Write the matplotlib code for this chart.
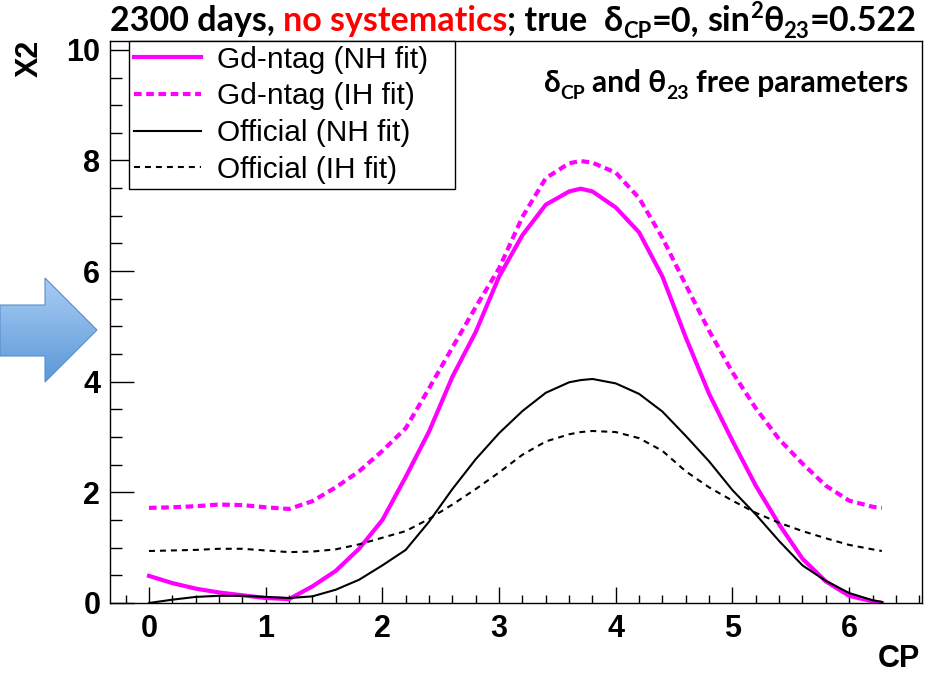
import matplotlib
matplotlib.use('Agg')
import matplotlib.pyplot as plt
import numpy as np
from matplotlib.ticker import MultipleLocator
from matplotlib.patches import Polygon
from matplotlib.transforms import IdentityTransform

# delta_CP scan points and chi2 values
cp = [0.0, 0.2, 0.4, 0.6, 0.8, 1.0, 1.2, 1.4, 1.6, 1.8, 2.0, 2.2, 2.4, 2.6, 2.8,
      3.0, 3.2, 3.4, 3.6, 3.7, 3.8, 4.0, 4.2, 4.4, 4.6, 4.8, 5.0, 5.2, 5.4, 5.6,
      5.8, 6.0, 6.2, 6.28]
gd_nh = [0.49, 0.36, 0.26, 0.19, 0.14, 0.09, 0.07, 0.30, 0.58, 0.98, 1.50, 2.28, 3.10, 4.09, 4.90,
         5.90, 6.65, 7.20, 7.44, 7.49, 7.44, 7.15, 6.70, 5.90, 4.80, 3.78, 2.93, 2.12, 1.42, 0.80,
         0.39, 0.13, 0.03, 0.0]
gd_ih = [1.72, 1.73, 1.75, 1.78, 1.77, 1.73, 1.70, 1.84, 2.09, 2.38, 2.75, 3.16, 3.88, 4.62, 5.35,
         6.05, 6.98, 7.68, 7.95, 7.99, 7.96, 7.78, 7.32, 6.60, 5.75, 4.92, 4.17, 3.52, 2.96, 2.52,
         2.12, 1.85, 1.74, 1.72]
off_nh = [0.0, 0.06, 0.11, 0.13, 0.13, 0.11, 0.09, 0.12, 0.24, 0.42, 0.68, 0.96, 1.47, 2.06, 2.60,
          3.07, 3.47, 3.80, 3.99, 4.03, 4.05, 3.97, 3.78, 3.46, 3.02, 2.56, 2.04, 1.60, 1.12, 0.68,
          0.40, 0.18, 0.05, 0.02]
off_ih = [0.94, 0.95, 0.96, 0.98, 0.98, 0.95, 0.92, 0.93, 0.97, 1.06, 1.18, 1.30, 1.52, 1.78, 2.06,
          2.36, 2.68, 2.92, 3.05, 3.09, 3.11, 3.09, 2.98, 2.75, 2.38, 2.09, 1.85, 1.63, 1.45, 1.30,
          1.17, 1.05, 0.97, 0.94]

labels = ['Gd-ntag (NH fit)', 'Gd-ntag (IH fit)', 'Official (NH fit)', 'Official (IH fit)']

plt.rcParams['font.family'] = ['Liberation Sans', 'DejaVu Sans']
plt.rcParams['lines.scale_dashes'] = False

W, H = 937, 675
fig = plt.figure(figsize=(W / 100, H / 100), dpi=100)
ax = fig.add_axes([110 / W, 72 / H, 812 / W, 562 / H])

l1, = ax.plot(cp, gd_nh, color='#ff00ff', lw=3.0)
l2, = ax.plot(cp, gd_ih, color='#ff00ff', lw=3.0, dashes=(5.5, 3.3))
l3, = ax.plot(cp, off_nh, color='black', lw=1.5)
l4, = ax.plot(cp, off_ih, color='black', lw=1.5, dashes=(4.3, 3.6))

ax.set_xlim(-0.334, 6.624)
ax.set_ylim(0, 10.16)
ax.xaxis.set_major_locator(MultipleLocator(1))
ax.xaxis.set_minor_locator(MultipleLocator(0.2))
ax.yaxis.set_major_locator(MultipleLocator(2))
ax.yaxis.set_minor_locator(MultipleLocator(0.5))
ax.tick_params(which='both', direction='in', top=False, right=False, width=1)
ax.tick_params(axis='x', which='major', length=11.5, pad=8, labelsize=22)
ax.tick_params(axis='x', which='minor', length=5.8)
ax.tick_params(axis='y', which='major', length=17, pad=7, labelsize=22)
ax.tick_params(axis='y', which='minor', length=8.6)
for lab in ax.get_xticklabels() + ax.get_yticklabels():
    lab.set_fontweight('bold')
for sp in ax.spines.values():
    sp.set_linewidth(1)

leg = ax.legend([l1, l2, l3, l4], labels, loc='upper left',
                bbox_to_anchor=(0.0234, 0.737, 0.402, 0.263), mode='expand',
                borderaxespad=0, fontsize=21.5, fancybox=False, edgecolor='black',
                framealpha=1, handlelength=2.24, handletextpad=0.54,
                borderpad=0.16, labelspacing=0.29)
leg.get_frame().set_linewidth(1)

fig.text(30, H - 40, 'X2', rotation=90, ha='center', va='top', fontsize=22,
         fontweight='bold', transform=IdentityTransform())
fig.text(920, 16, 'CP', ha='right', va='center', fontsize=22,
         fontweight='bold', transform=IdentityTransform())

# title / annotation with mixed colours and sub/superscripts
rich_family = ['Lato', 'DejaVu Sans']


def rich_text(x, y, parts, size):
    r = fig.canvas.get_renderer()
    ident = IdentityTransform()

    def width(s):
        t = fig.text(0, 0, s, fontsize=size, fontweight='bold', family=rich_family, transform=ident)
        w = t.get_window_extent(r).width
        t.remove()
        return w

    space = width('a a') - width('aa')
    items = []
    total = 0
    for s, color, scale, rise in parts:
        if s.strip() == '':
            total += space * len(s)
            continue
        t = fig.text(0, 0, s, color=color, fontsize=size * scale, fontweight='bold',
                     family=rich_family, va='baseline', ha='left', transform=ident)
        w = t.get_window_extent(r).width
        items.append((t, total, rise))
        total += w
    x0 = x - total / 2
    for t, off, rise in items:
        t.set_position((x0 + off, y + rise * size * 100 / 72))


sub, sup = -0.22, 0.38
rich_text(513, H - 31, [
    ('2300 days,', 'black', 1, 0), (' ', None, 1, 0),
    ('no systematics', 'red', 1, 0), ('; true', 'black', 1, 0), ('  ', None, 1, 0),
    ('δ', 'black', 1, 0), ('CP', 'black', 0.65, sub), ('=0,', 'black', 1, 0), (' ', None, 1, 0),
    ('sin', 'black', 1, 0), ('2', 'black', 0.65, sup), ('θ', 'black', 1, 0),
    ('23', 'black', 0.65, sub), ('=0.522', 'black', 1, 0),
], 24.5)

rich_text(726, H - 92, [
    ('δ', 'black', 1, 0), ('CP', 'black', 0.65, sub), (' ', None, 1, 0),
    ('and θ', 'black', 1, 0), ('23', 'black', 0.65, sub), (' ', None, 1, 0),
    ('free parameters', 'black', 1, 0),
], 21.5)

# blue arrow on the left, with a vertical gradient
bg = fig.add_axes([0, 0, 1, 1], zorder=-1)
bg.axis('off')
arrow = Polygon([(0, 305), (45, 305), (45, 278), (97, 330), (45, 382), (45, 356), (0, 356)],
                closed=True, facecolor='none', edgecolor='#5a8dcc', lw=0.8)
bg.add_patch(arrow)
grad = np.linspace(0, 1, 100).reshape(-1, 1)
cmap = matplotlib.colors.LinearSegmentedColormap.from_list('arr', ['#a8cdf4', '#5b98d8'])
im = bg.imshow(grad, cmap=cmap, extent=(0, 97, 382, 278), aspect='auto')
im.set_clip_path(arrow)
bg.set_xlim(0, W)
bg.set_ylim(H, 0)

fig.savefig('out.png', dpi=100)
